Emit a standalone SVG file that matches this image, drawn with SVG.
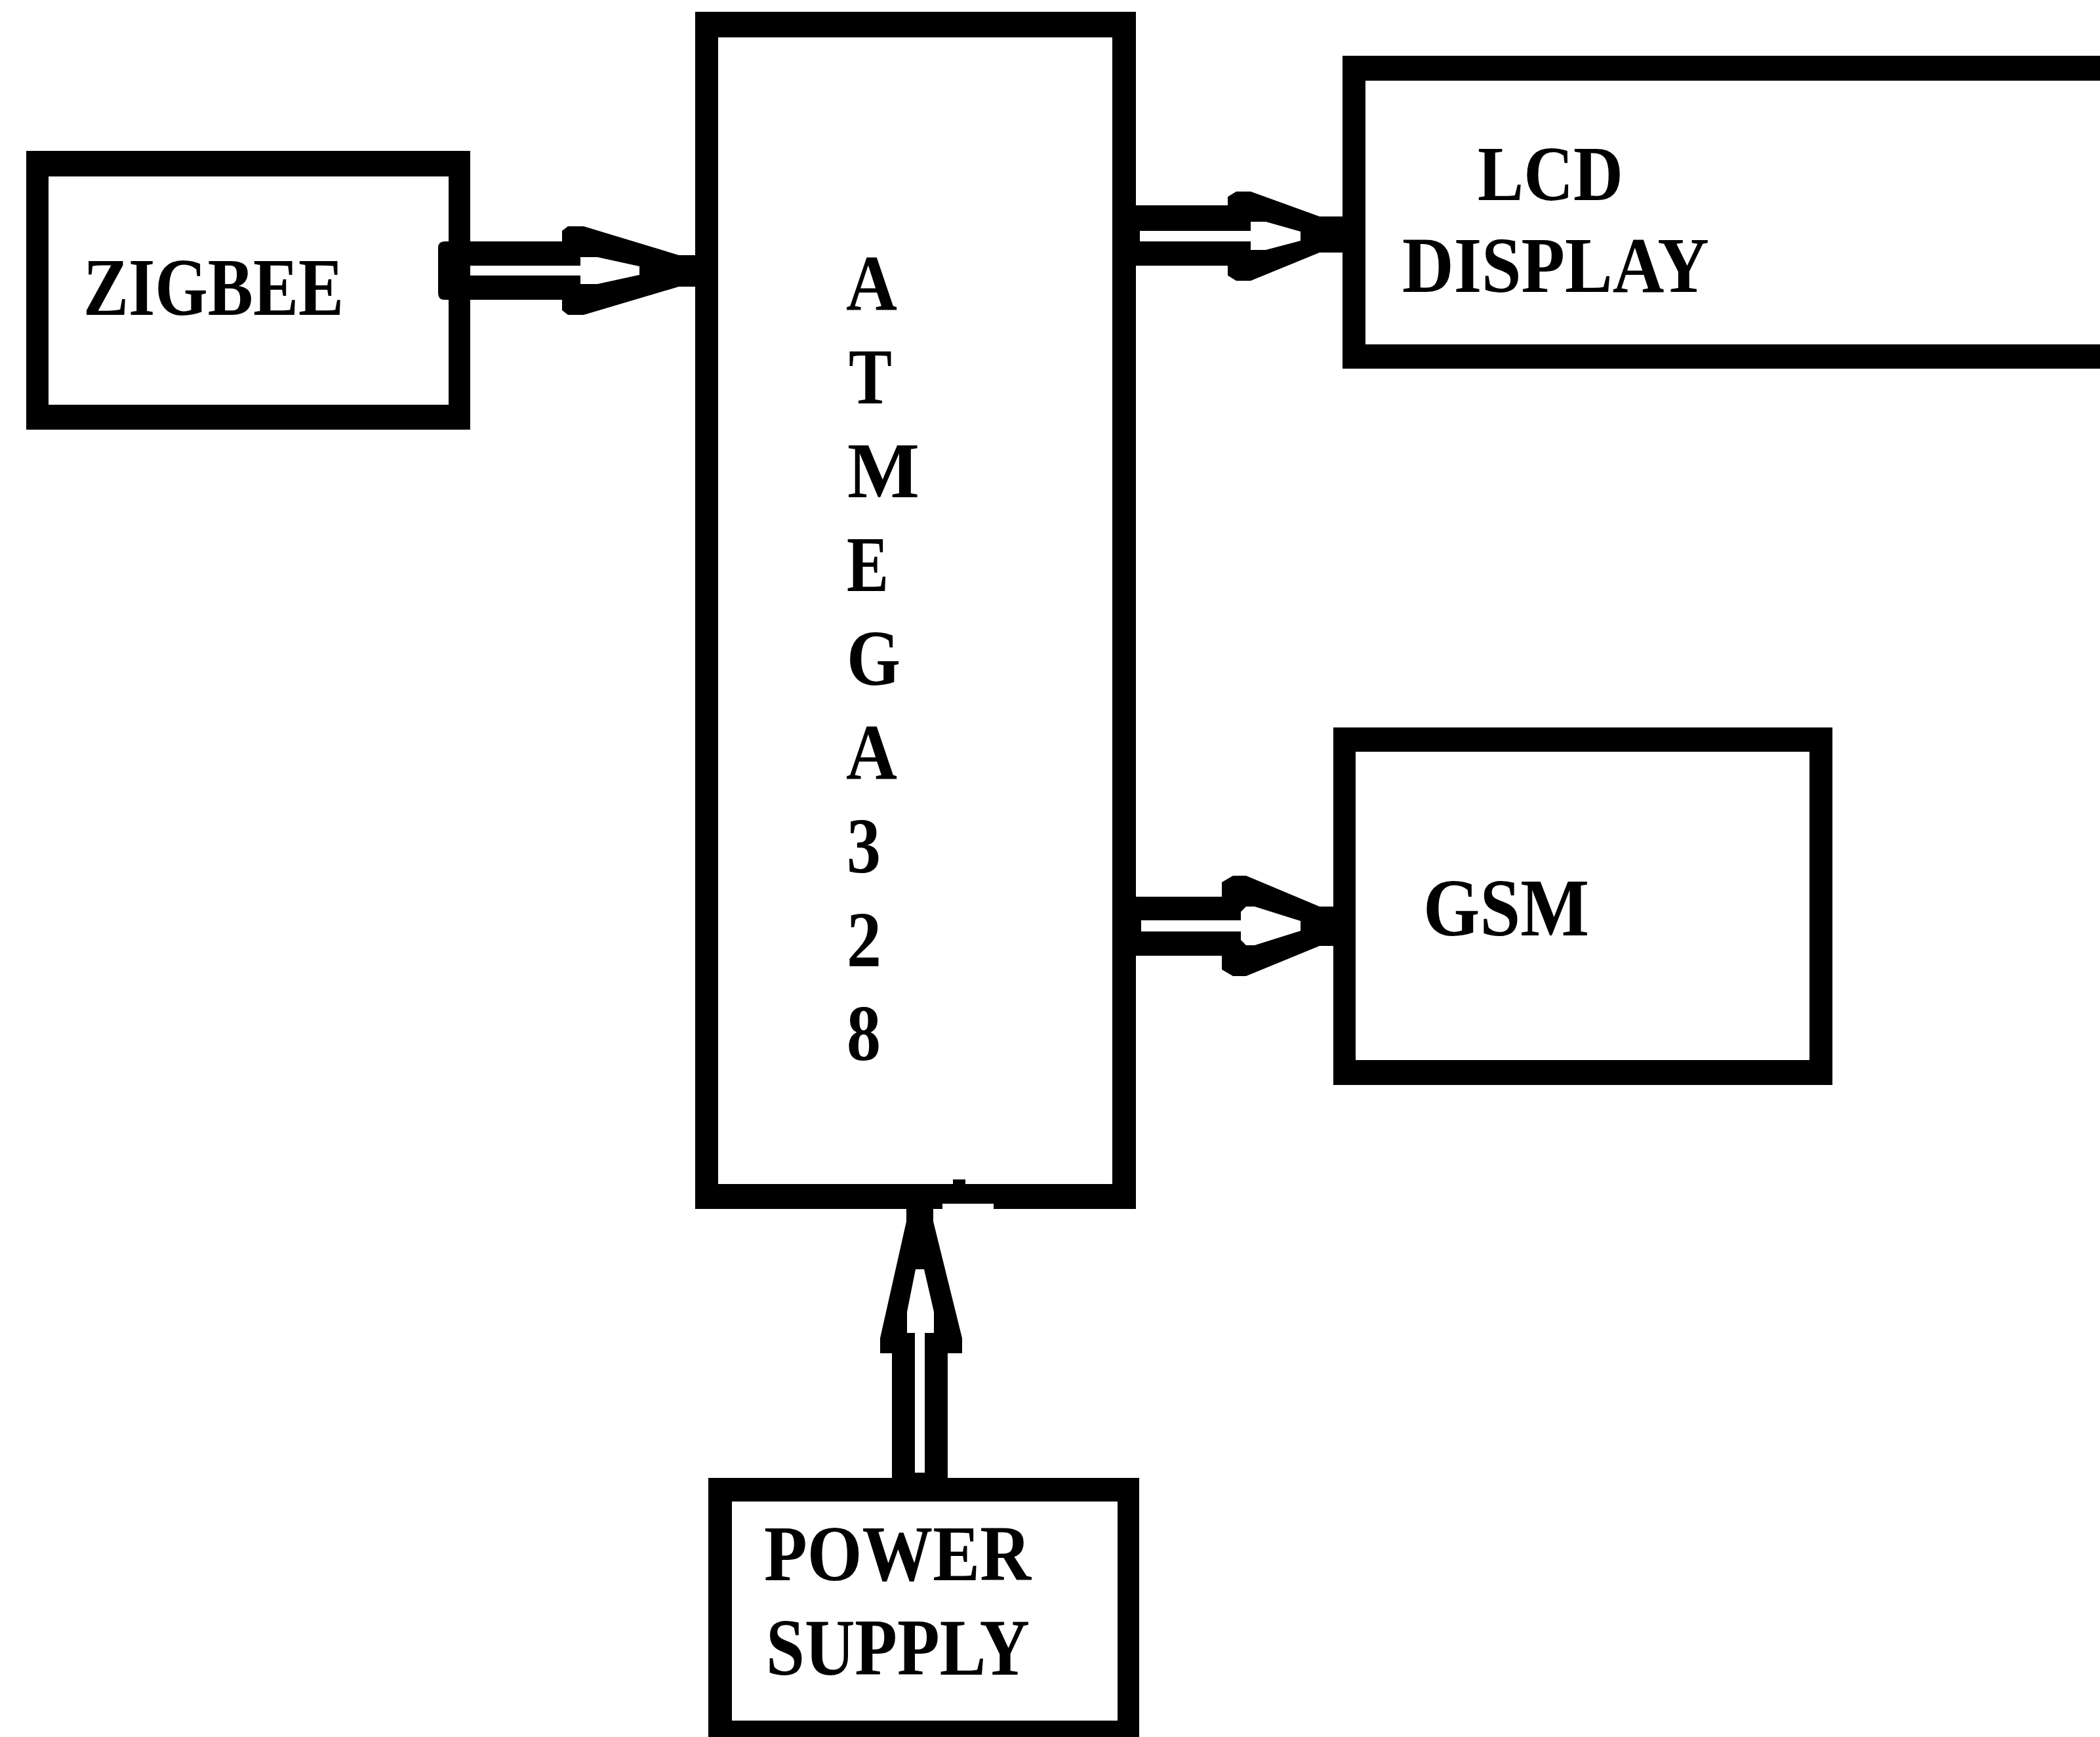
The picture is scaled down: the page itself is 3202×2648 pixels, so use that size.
<svg xmlns="http://www.w3.org/2000/svg" width="3202" height="2648" viewBox="0 0 3202 2648">
<style>
.box{fill:#000;fill-rule:evenodd}
.lbl{font-family:'Liberation Serif','Times New Roman',Times,serif;font-weight:700;fill:#000}
.blk{fill:#000}
.wht{fill:#fff}
</style>
<rect x="0" y="0" width="3202" height="2648" fill="#fff"/>
<g id="connectors">
  <g id="zigbee-to-atmega">
    <path class="blk" d="M678,368 L857,368 L857,352 L866,345 L890,345 L1035,389 L1062,389 L1062,437 L1035,437 L890,480 L866,480 L857,473 L857,457 L678,457 Q668,457 668,447 L668,378 Q668,368 678,368 Z"/>
    <path class="wht" d="M717,405 L885,405 L885,392 L911,392 L975,406 L975,419 L911,433 L885,433 L885,420 L717,420 Z"/>
  </g>
  <g id="atmega-to-lcd">
    <path class="blk" d="M1731,313 L1872,313 L1872,300 L1885,292 L1907,292 L2012,330 L2048,330 L2048,385 L2012,385 L1907,428 L1885,428 L1872,420 L1872,405 L1731,405 Z"/>
    <path class="wht" d="M1738,352 L1907,352 L1907,338 L1930,338 L1983,353 L1983,367 L1930,381 L1907,381 L1907,368 L1738,368 Z"/>
  </g>
  <g id="atmega-to-gsm">
    <path class="blk" d="M1731,1367 L1863,1367 L1863,1345 L1880,1335 L1900,1335 L2012,1382 L2034,1382 L2034,1442 L2012,1442 L1900,1488 L1880,1488 L1863,1478 L1863,1457 L1731,1457 Z"/>
    <path class="wht" d="M1740,1403 L1892,1403 L1892,1390 L1900,1382 L1913,1382 L1983,1404 L1983,1419 L1913,1441 L1900,1441 L1892,1433 L1892,1420 L1740,1420 Z"/>
  </g>
  <g id="power-to-atmega">
    <path class="blk" d="M1360,2256 L1360,2063 L1342,2063 L1342,2040 L1382,1862 L1382,1840 L1423,1840 L1423,1862 L1467,2040 L1467,2063 L1445,2063 L1445,2256 Z"/>
    <path class="wht" d="M1395,2245 L1395,2032 L1383,2032 L1383,2000 L1396,1935 L1409,1935 L1424,2000 L1424,2032 L1410,2032 L1410,2245 Z"/>
  </g>
</g>
<g id="zigbee">
  <path class="box" d="M40,230 H717 V655 H40 Z M74,269 V617 H684 V269 Z"/>
  <text class="lbl" font-family="Liberation Serif, serif" x="127" y="480" font-size="125" textLength="397" lengthAdjust="spacingAndGlyphs">ZIGBEE</text>
</g>
<g id="atmega328">
  <path class="box" d="M1060,18 H1732 V1843 H1060 Z M1095,57 V1805 H1696 V57 Z"/>
  <rect class="wht" x="1437" y="1835" width="78" height="9"/>
  <rect class="blk" x="1453" y="1798" width="19" height="8"/>
  <text class="lbl" font-family="Liberation Serif, serif" x="1290" y="472" font-size="121" textLength="78" lengthAdjust="spacingAndGlyphs">A</text>
  <text class="lbl" font-family="Liberation Serif, serif" x="1294" y="615" font-size="121" textLength="66" lengthAdjust="spacingAndGlyphs">T</text>
  <text class="lbl" font-family="Liberation Serif, serif" x="1292" y="758" font-size="121" textLength="110" lengthAdjust="spacingAndGlyphs">M</text>
  <text class="lbl" font-family="Liberation Serif, serif" x="1291" y="901" font-size="121" textLength="64" lengthAdjust="spacingAndGlyphs">E</text>
  <text class="lbl" font-family="Liberation Serif, serif" x="1291" y="1044" font-size="121" textLength="82" lengthAdjust="spacingAndGlyphs">G</text>
  <text class="lbl" font-family="Liberation Serif, serif" x="1290" y="1187" font-size="121" textLength="78" lengthAdjust="spacingAndGlyphs">A</text>
  <text class="lbl" font-family="Liberation Serif, serif" x="1291" y="1330" font-size="121" textLength="52" lengthAdjust="spacingAndGlyphs">3</text>
  <text class="lbl" font-family="Liberation Serif, serif" x="1291" y="1473" font-size="121" textLength="53" lengthAdjust="spacingAndGlyphs">2</text>
  <text class="lbl" font-family="Liberation Serif, serif" x="1291" y="1616" font-size="121" textLength="52" lengthAdjust="spacingAndGlyphs">8</text>
</g>
<g id="lcd-display">
  <path class="box" d="M2047,85 H3260 V562 H2047 Z M2082,123 V525 H3260 V123 Z"/>
  <text class="lbl" font-family="Liberation Serif, serif" x="2253" y="305" font-size="118" textLength="222" lengthAdjust="spacingAndGlyphs">LCD</text>
  <text class="lbl" font-family="Liberation Serif, serif" x="2138" y="445" font-size="121" textLength="468" lengthAdjust="spacingAndGlyphs">DISPLAY</text>
</g>
<g id="gsm">
  <path class="box" d="M2033,1109 H2794 V1654 H2033 Z M2067,1146 V1616 H2759 V1146 Z"/>
  <text class="lbl" font-family="Liberation Serif, serif" x="2170" y="1426" font-size="124" textLength="253" lengthAdjust="spacingAndGlyphs">GSM</text>
</g>
<g id="power-supply">
  <path class="box" d="M1080,2253 H1737 V2700 H1080 Z M1116,2289 V2623 H1704 V2289 Z"/>
  <text class="lbl" font-family="Liberation Serif, serif" x="1165" y="2409" font-size="120" textLength="407" lengthAdjust="spacingAndGlyphs">POWER</text>
  <text class="lbl" font-family="Liberation Serif, serif" x="1168" y="2553" font-size="122" textLength="402" lengthAdjust="spacingAndGlyphs">SUPPLY</text>
</g>
</svg>
